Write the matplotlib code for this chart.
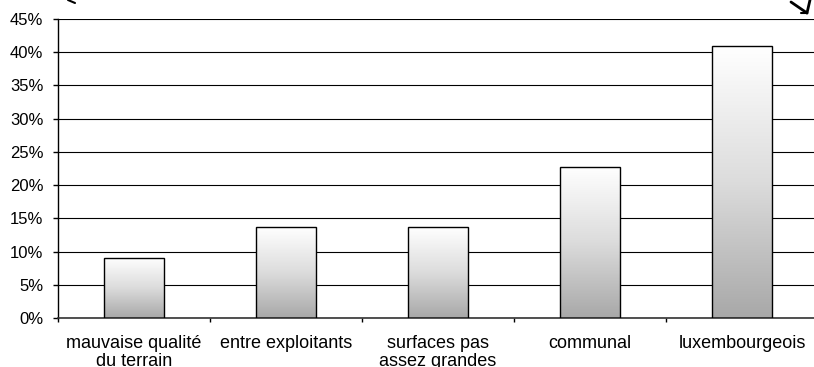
import numpy as np
import matplotlib
matplotlib.use("Agg")
import matplotlib.pyplot as plt
from matplotlib.colors import LinearSegmentedColormap
from matplotlib.lines import Line2D

categories = ["mauvaise qualité\ndu terrain", "entre exploitants",
              "surfaces pas\nassez grandes", "communal", "luxembourgeois"]
values = [9.09, 13.64, 13.64, 22.73, 40.91]
yticks = [0, 5, 10, 15, 20, 25, 30, 35, 40, 45]
ytick_labels = [f"{t}%" for t in yticks]

plt.rcParams['font.family'] = ['Liberation Sans', 'DejaVu Sans']

W, H = 814, 367
fig = plt.figure(figsize=(W / 100, H / 100), dpi=100)
left, right, bottom, top = 58, 818, 318, 19
ax = fig.add_axes([left / W, 1 - bottom / H, (right - left) / W, (bottom - top) / H])

x = np.arange(len(categories))
bars = ax.bar(x, values, width=0.4, facecolor='none', edgecolor='black',
              linewidth=1.0, zorder=3)

cmap = LinearSegmentedColormap.from_list('g', ['#ffffff', '#dcdcdc', '#a8a8a8'])
grad = np.linspace(0, 1, 256).reshape(-1, 1)
for b in bars:
    x0, y0 = b.get_x(), b.get_y()
    w, h = b.get_width(), b.get_height()
    im = ax.imshow(grad, cmap=cmap, aspect='auto', origin='upper',
                   extent=[x0, x0 + w, y0, y0 + h], zorder=2,
                   interpolation='bilinear')
    im.set_clip_path(b)

ax.set_xlim(-0.5, len(categories) - 0.5)
ax.set_ylim(0, 45)
ax.set_yticks(yticks)
ax.set_yticklabels(ytick_labels, fontsize=12)
ax.set_xticks(x)
ax.set_xticklabels(categories, fontsize=13, linespacing=1.12)
ax.set_xticks(np.arange(-0.5, len(categories), 1.0), minor=True)
ax.tick_params(axis='x', which='major', length=0, pad=12)
ax.tick_params(axis='x', which='minor', length=3, width=1, direction='out', color='black')
ax.tick_params(axis='y', length=3.6, width=1, direction='out', pad=7, color='black')

ax.yaxis.grid(True, color='black', linewidth=0.8, zorder=1)
ax.set_axisbelow(True)
for s in ['top', 'right']:
    ax.spines[s].set_visible(False)
ax.spines['left'].set_linewidth(1.0)
ax.spines['bottom'].set_linewidth(1.2)
ax.spines['bottom'].set_color('#333333')

# small cropped arrow strokes visible at the top corners of the original
def px_line(xs, ys, lw=2.0):
    fig.add_artist(Line2D([v / W for v in xs], [1 - v / H for v in ys],
                          transform=fig.transFigure, color='black', lw=lw,
                          solid_capstyle='round'))

px_line([791, 807], [2, 13])
px_line([810, 807], [0, 13])
px_line([801, 807], [13, 13], lw=1.5)
px_line([68, 75], [0, 3], lw=1.5)

fig.savefig("out.png", dpi=100)
